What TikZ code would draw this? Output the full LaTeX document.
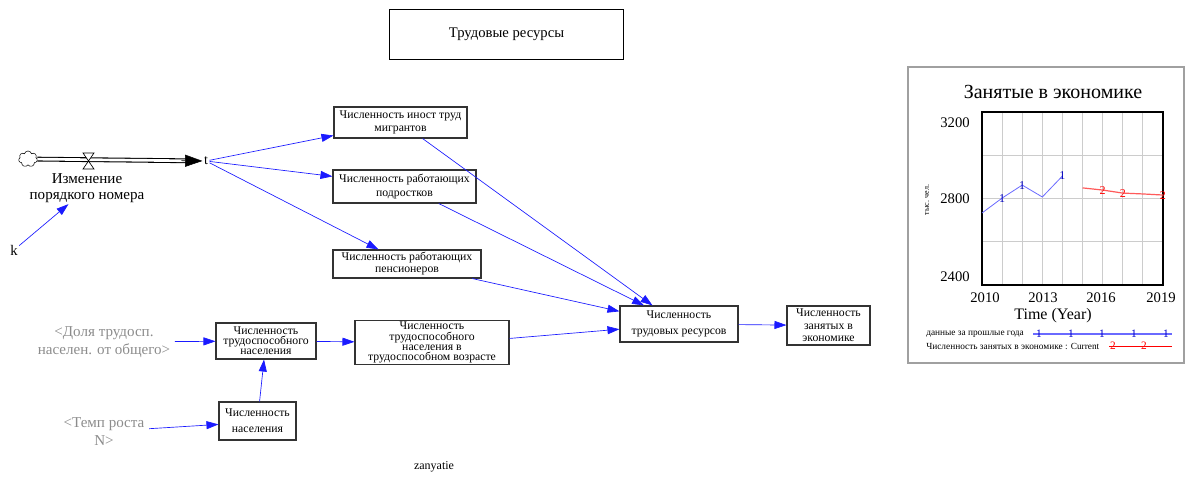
\documentclass[tikz,border=0pt]{standalone}
\usepackage{fontspec}
\setmainfont{Liberation Serif}
\usetikzlibrary{arrows.meta,shapes.symbols}
\definecolor{linkblue}{HTML}{1A1AFF}
\definecolor{lineblue}{HTML}{6A6AFF}
\definecolor{linered}{HTML}{FF5A5A}
\definecolor{panelgray}{HTML}{A0A0A0}
\tikzset{
  varbox/.style={draw=black!80, line width=0.8pt, align=center, inner sep=1pt, fill=white,
    font=\fontsize{8.8}{10}\selectfont},
  tightbox/.style={varbox, font=\fontsize{8.8}{7.6}\selectfont},
  link/.style={linkblue, line width=0.5pt, -{Triangle[length=9pt,width=6pt]}},
  shadowvar/.style={text=black!45, align=center, font=\fontsize{11.3}{13}\selectfont},
  flowpipe/.style={double=white, double distance=2pt, line width=0.8pt},
}
\begin{document}
\begin{tikzpicture}[x=0.75pt, y=-0.75pt]
  \useasboundingbox (0,0) rectangle (1198,477);
  % title of the view
  \node[draw, line width=0.6pt, minimum width=176pt, minimum height=37pt,
        font=\fontsize{11}{13}\selectfont] (title) at (506.5,34.5) {Трудовые ресурсы};
  %%%%%%%%%%%%%%% flow into t
  \node[cloud, draw, cloud puffs=7, minimum width=14pt, minimum height=12pt, inner sep=0pt] (cloud) at (28,159) {};
  \node[font=\fontsize{10.5}{12}\selectfont, inner sep=1pt] (t) at (206,161) {t};
  \draw[flowpipe, shorten >=10pt] (cloud) -- (t);
  \draw[-{Triangle[length=13pt,width=9pt]}, line width=0.4pt, shorten <=108pt] (cloud) -- (t);
  \draw[fill=white, line width=0.5pt] (83,153) -- (94,153) -- (83,169) -- (94,169) -- cycle;
  \node[align=center, font=\fontsize{11.3}{12}\selectfont, inner sep=1pt] (rate) at (87,188)
        {Изменение\\порядкого номера};
  \node[font=\fontsize{11}{13}\selectfont, inner sep=1pt] (k) at (14,250) {k};
  \draw[link] (k) -- (rate.221);
  %%%%%%%%%%%%%%% components
  \node[varbox, minimum width=99.75pt, minimum height=23.25pt] (migr) at (400.5,122.5)
        {Численность иност труд\\мигрантов};
  \node[varbox, minimum width=107.25pt, minimum height=24.75pt] (teen) at (404.5,186.5)
        {Численность работающих\\подростков};
  \node[varbox, minimum width=111pt, minimum height=21pt, font=\fontsize{8.8}{9}\selectfont] (pens) at (407,264)
        {Численность работающих\\пенсионеров};
  \draw[link] (t) -- (migr.191);
  \draw[link] (t) -- (teen.172);
  \draw[link] (t) -- (pens.153);
  %%%%%%%%%%%%%%% working-age population
  \node[shadowvar] (dolya) at (104,342) {<Доля трудосп.\\населен. от общего>};
  \node[shadowvar] (temp) at (104,431.5) {<Темп роста\\N>};
  \node[tightbox, minimum width=75pt, minimum height=27pt] (able) at (266,341)
        {Численность\\трудоспособного\\населения};
  \node[varbox, minimum width=57.75pt, minimum height=28.5pt, font=\fontsize{8.8}{12}\selectfont] (pop) at (257.5,421)
        {Численность\\населения};
  \node[tightbox, minimum width=115.5pt, minimum height=30.75pt] (ableage) at (432,342.5)
        {Численность\\трудоспособного\\населения в\\трудоспособном возрасте};
  \draw[link] (dolya) -- (able);
  \draw[link] (temp) -- (pop.185);
  \draw[link] (pop) -- (able);
  \draw[link] (able) -- (ableage);
  %%%%%%%%%%%%%%% labour resources and employment
  \node[varbox, minimum width=88.5pt, minimum height=27pt, font=\fontsize{8.8}{12}\selectfont] (tgt) at (679,324)
        {Численность\\трудовых ресурсов};
  \node[varbox, minimum width=62.25pt, minimum height=29.25pt, font=\fontsize{8.8}{9.5}\selectfont] (empl) at (828.5,325.5)
        {Численность\\занятых в\\экономике};
  \draw[link] (migr) -- (tgt.145);
  \draw[link] (teen) -- (tgt.152);
  \draw[link] (pens) -- (tgt.168);
  \draw[link] (ableage.3) -- (tgt.185);
  \draw[link] (tgt) -- (empl);
  \node[font=\fontsize{9}{11}\selectfont] (zan) at (434,467) {zanyatie};
  %%%%%%%%%%%%%%% graph panel
  \draw[panelgray, line width=0.8pt, fill=white] (908,67) rectangle (1184,363);
  \node[font=\fontsize{15}{17}\selectfont] at (1053,92) {Занятые в экономике};
  \begin{scope}[shift={(982,285)}, x=15.08pt, y=0.1622pt]
    \foreach \yr in {1,...,8} {
      \draw[black!20, line width=0.6pt] (\yr,0) -- (\yr,800);
    }
    \foreach \v in {200,400,600} {
      \draw[black!20, line width=0.6pt] (0,\v) -- (9,\v);
    }
    \draw[line width=1pt] (0,0) rectangle (9,800);
    % past data
    \draw[lineblue, line width=0.6pt] (0,333) -- (1,402) -- (2,462) -- (3,407) -- (4,504);
    \foreach \yr/\v in {1/402,2/462,4/504} {
      \node[blue!75!black, font=\fontsize{9}{9}\selectfont, inner sep=0pt] at (\yr,\v) {1};
    }
    % current run
    \draw[linered, line width=0.9pt] (5,449) -- (6,439) -- (7,425) -- (8,421) -- (9,416);
    \foreach \yr/\v in {6/439,7/425,9/416} {
      \node[red, font=\fontsize{9}{9}\selectfont, inner sep=0pt] at (\yr,\v) {2};
    }
  \end{scope}
  \foreach \lbl/\yy in {3200/123,2800/199,2400/277} {
    \node[font=\fontsize{11}{13}\selectfont] at (955,\yy) {\lbl};
  }
  \foreach \lbl/\xx in {2010/985,2013/1043,2016/1101,2019/1161} {
    \node[font=\fontsize{11}{13}\selectfont] at (\xx,298) {\lbl};
  }
  \node[rotate=90, font=\fontsize{6}{7}\selectfont] at (927,200) {тыс. чел.};
  \node[font=\fontsize{12}{14}\selectfont] at (1053,316) {Time (Year)};
  % legend
  \node[anchor=west, font=\fontsize{7}{8}\selectfont, inner sep=0pt] at (926,334) {данные за прошлые года};
  \draw[lineblue, line width=0.8pt] (1033,334) -- (1172,334);
  \foreach \xx in {1039,1071,1102,1134,1166} {
    \node[blue!80!black, font=\fontsize{8.5}{8}\selectfont, inner sep=0pt] at (\xx,334) {1};
  }
  \node[anchor=west, font=\fontsize{7}{8}\selectfont, inner sep=0pt] at (926,346) {Численность занятых в экономике : Current};
  \draw[red, line width=0.6pt] (1109,346) -- (1172,346);
  \foreach \xx in {1113,1144} {
    \node[red, font=\fontsize{8.5}{8}\selectfont, inner sep=0pt] at (\xx,346) {2};
  }
\end{tikzpicture}
\end{document}
